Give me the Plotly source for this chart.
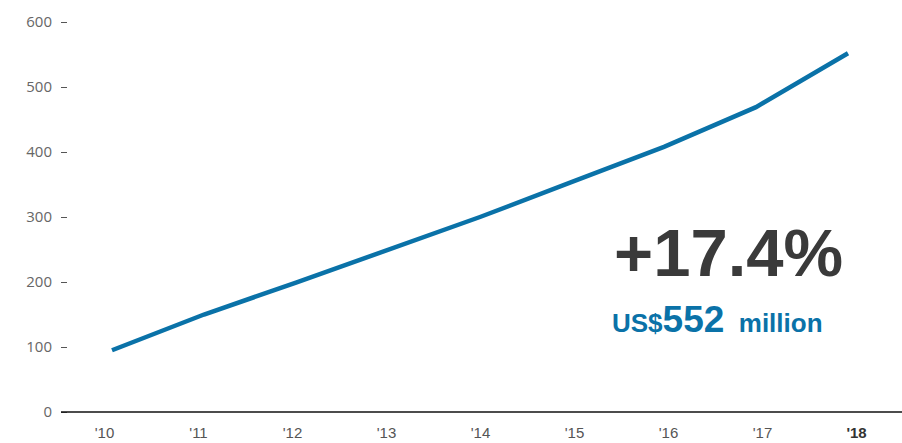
import plotly.graph_objects as go

years = [2010, 2011, 2012, 2013, 2014, 2015, 2016, 2017, 2018]
values = [95, 150, 199, 249, 300, 354, 408, 469, 552]
x_labels = ["'10", "'11", "'12", "'13", "'14", "'15", "'16", "'17", "<b><span style='color:#333'>'18</span></b>"]
y_ticks = [0, 100, 200, 300, 400, 500, 600]

idx = list(range(len(years)))
BLUE = "#0a72a8"
GRAY = "#555555"

K = 0.65          # px per unit on y
L, T, B = 61, 15, 27
PW = 902 - L
PH = 443 - T - B
YMIN = -(443 - B - 412) / K
YMAX = YMIN + PH / K

fig = go.Figure()
fig.add_trace(go.Scatter(x=idx, y=values, mode="lines",
                         line=dict(color=BLUE, width=4.5),
                         hoverinfo="skip", showlegend=False))
# invisible trace to carry the label axis
fig.add_trace(go.Scatter(x=idx, y=values, xaxis="x2", mode="lines",
                         line=dict(color="rgba(0,0,0,0)", width=0),
                         hoverinfo="skip", showlegend=False))

fig.update_layout(
    width=902, height=443,
    margin=dict(l=L, r=0, t=T, b=B),
    paper_bgcolor="white", plot_bgcolor="white",
    font=dict(family="Open Sans, Liberation Sans, Arial, sans-serif", color=GRAY),
    xaxis=dict(range=[-(112 - L) / 92, -(112 - L) / 92 + PW / 92], showticklabels=False, ticks="",
               showgrid=False, zeroline=False, showline=False, automargin=False),
    xaxis2=dict(overlaying="x", range=[-(104.5 - L) / 94, -(104.5 - L) / 94 + PW / 94],
                tickvals=idx, ticktext=x_labels,
                side="bottom", showgrid=False, zeroline=False, showline=False, ticks="",
                ticklabelstandoff=6, automargin=False,
                tickfont=dict(family="Liberation Sans, Arial, sans-serif", size=15, color=GRAY)),
    yaxis=dict(range=[YMIN, YMAX], tickvals=y_ticks, showgrid=False, zeroline=False,
               showline=False, ticks="inside", ticklen=6, tickwidth=1.3, tickcolor=GRAY,
               ticklabelstandoff=8, automargin=False,
               tickfont=dict(family="Open Sans, sans-serif", size=15, color="#666666")),
    shapes=[dict(type="line", xref="paper", yref="y", x0=0, x1=1, y0=0, y1=0,
                 line=dict(color="#111111", width=1.5))],
    annotations=[
        dict(xref="paper", yref="y", x=(612 - L) / PW, y=246, xanchor="left", yanchor="middle",
             text="<b>+17.4%</b>", showarrow=False,
             font=dict(family="Liberation Sans, Arial, sans-serif", size=67, color="#3a3a3a")),
        dict(xref="paper", yref="y", x=(610 - L) / PW, y=143, xanchor="left", yanchor="middle",
             text="<b>US$<span style='font-size:37px'>552</span>&nbsp; million</b>", showarrow=False,
             font=dict(family="Liberation Sans, Arial, sans-serif", size=26, color=BLUE)),
    ],
)

fig.write_html("out.html", config={"displayModeBar": False},
               post_script="document.body.style.margin='0px';")
